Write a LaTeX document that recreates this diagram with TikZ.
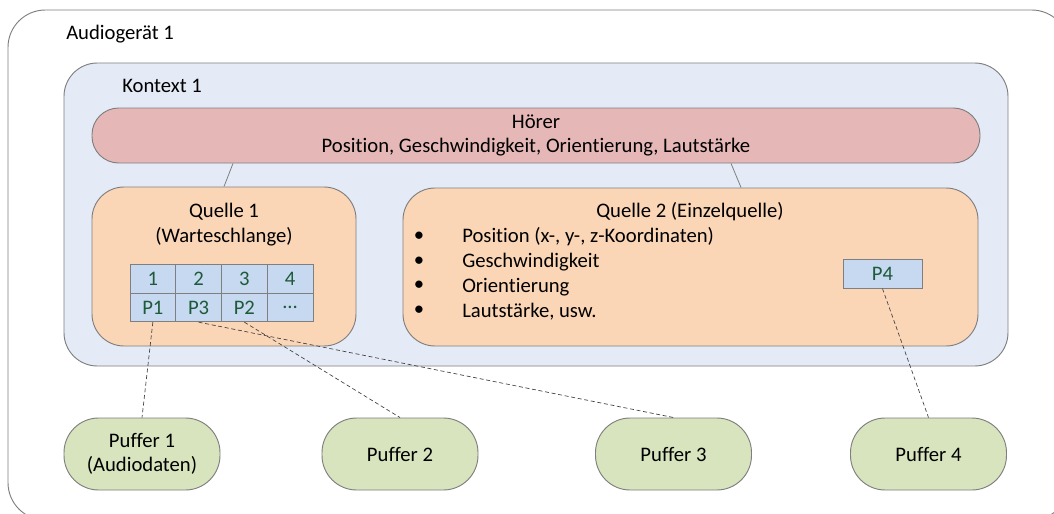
\documentclass[tikz,border=0pt]{standalone}
\usepackage{fontspec}
\setmainfont{Carlito}[Ligatures=NoCommon]
\usetikzlibrary{positioning}

\definecolor{rahmen}{HTML}{7F7F7F}
\definecolor{kontextblau}{HTML}{E4EBF6}
\definecolor{hoererrot}{HTML}{E5B8B7}
\definecolor{quellorange}{HTML}{FBD6B6}
\definecolor{zelleblau}{HTML}{C6D9F0}
\definecolor{zelltext}{HTML}{1E5A3A}
\definecolor{puffergruen}{HTML}{D7E4BD}

\newcommand{\luecke}{...}

\tikzset{
  box/.style={draw=rahmen, line width=0.7pt, align=center, inner sep=0pt},
  quelle/.style={box, fill=quellorange, rounded corners=24pt},
  zelle/.style={draw=rahmen, line width=0.6pt, fill=zelleblau, text=zelltext,
    minimum width=34.3pt, minimum height=21.4pt, inner sep=0pt},
  puffer/.style={box, fill=puffergruen, rounded corners=26pt,
    minimum width=117pt, minimum height=54pt},
  beschriftung/.style={inner sep=0pt, anchor=base west},
  verbindung/.style={draw=rahmen, line width=0.6pt},
  zuordnung/.style={draw=black!75, line width=0.5pt, dash pattern=on 3pt off 2pt}
}

\begin{document}
\begin{tikzpicture}[x=0.75pt, y=-0.75pt, font=\fontsize{15.5}{18.5}\selectfont]
  \clip (0,0) rectangle (1054,514);

  % Geraet und Kontext
  \node[box, fill=white, rounded corners=28pt, minimum width=795.75pt, minimum height=382.5pt]
    (geraet) at (538.5,265) {};
  \node[beschriftung] (geraettitel) at (66,39) {Audiogerät 1};
  \node[box, fill=kontextblau, rounded corners=25pt, minimum width=708pt, minimum height=227.25pt]
    (kontext) at (536,214.5) {};
  \node[beschriftung] (kontexttitel) at (122,92) {Kontext 1};

  % Hoerer
  \node[box, fill=hoererrot, rounded corners=20pt, minimum width=666pt, minimum height=41.25pt]
    (hoerer) at (536,135.5) {Hörer\\Position, Geschwindigkeit, Orientierung, Lautstärke};

  % Quellen
  \node[quelle, minimum width=198pt, minimum height=119.25pt] (q1) at (224,266.5) {};
  \node[inner sep=0pt, align=center] (q1titel) at (224,224.5) {Quelle 1\\(Warteschlange)};
  \node[quelle, minimum width=431.25pt, minimum height=118.5pt] (q2) at (690.5,267) {};
  \node[inner sep=0pt] (q2titel) at (690,212) {Quelle 2 (Einzelquelle)};
  \foreach \t [count=\n] in {{Position (x-, y-, z-Koordinaten)}, Geschwindigkeit, Orientierung, {Lautstärke, usw.}} {
    \node[inner sep=0pt] (punkt\n) at (419,{212+24.75*\n}) {\textbullet};
    \node[beschriftung] (eintrag\n) at (462,{218+24.75*\n}) {\t};
  }

  % Warteschlange
  \foreach \i/\p in {1/P1, 2/P3, 3/P2, 4/\luecke} {
    \node[zelle] (nr\i) at ({107.1+45.75*\i},279) {\i};
    \node[zelle] (pk\i) at ({107.1+45.75*\i},307.5) {\p};
  }
  \node[zelle, minimum width=59.25pt] (p4) at (882.5,274) {P4};

  % Puffer
  \node[puffer] (puffer1) at (142,454) {Puffer 1\\(Audiodaten)};
  \node[puffer] (puffer2) at (400,454) {Puffer 2};
  \node[puffer] (puffer3) at (673.5,454) {Puffer 3};
  \node[puffer] (puffer4) at (928.5,454) {Puffer 4};

  % Verbindungen
  \draw[verbindung] (q1.north) -- ([xshift=6.75pt]q1.north |- hoerer.south);
  \draw[verbindung] ([xshift=37.9pt]q2.north) -- ([xshift=30.4pt]q2.north |- hoerer.south);
  \draw[zuordnung] (pk1.south) -- (puffer1.north);
  \draw[zuordnung] (pk2.south) -- (puffer3.north);
  \draw[zuordnung] (pk3.south) -- (puffer2.north);
  \draw[zuordnung] (p4.south) -- (puffer4.north);
\end{tikzpicture}
\end{document}
